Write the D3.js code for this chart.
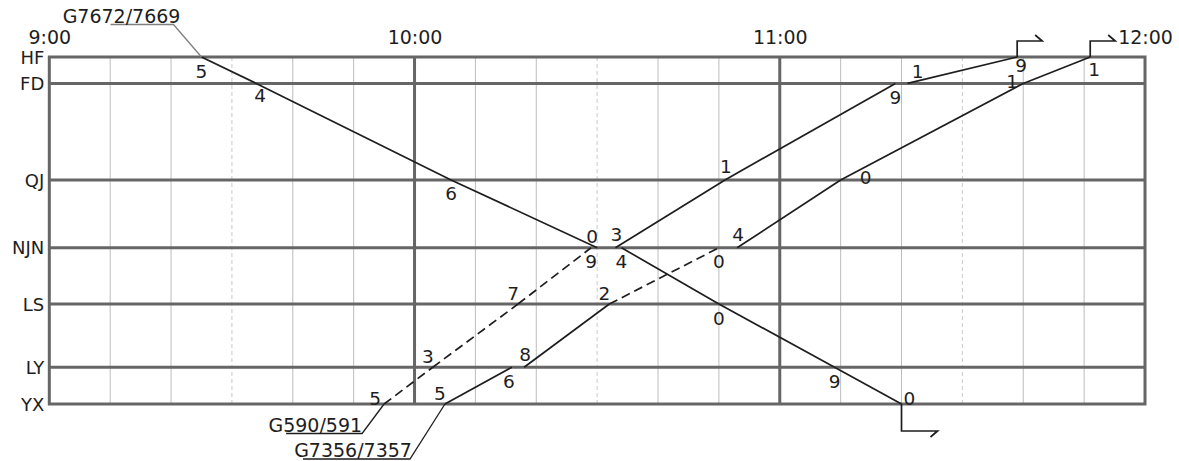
<!DOCTYPE html>
<html>
<head>
<meta charset="utf-8">
<script src="https://cdn.jsdelivr.net/npm/d3@7"></script>
<style>
    body { margin: 0; background: #fff; }
    svg { display: block; font-family: "DejaVu Sans", sans-serif; }
    .minor { stroke: #bdbdbd; stroke-width: 1; }
    .minor.half { stroke: #cacaca; stroke-dasharray: 4 3; }
    .major { stroke: #666; stroke-width: 3; fill: none; }
    .train { stroke: #1e1e1e; stroke-width: 1.7; fill: none; }
    .train.dashed { stroke-dasharray: 9 5; }
    .mark { font-size: 18.5px; fill: #1e1e1e; text-anchor: middle; }
    .axis text { font-size: 18px; fill: #1e1e1e; font-family: "DejaVu Sans", sans-serif; }
    .axis.top text { font-size: 19px; }
    .name { font-size: 19px; fill: #1e1e1e; text-anchor: end; }
</style>
</head>
<body>
<svg id="chart" width="1179" height="461"></svg>
<script>
//
// DATA
//
const stations = ['HF', 'FD', 'QJ', 'NJN', 'LS', 'LY', 'YX']
const stationKm = [0, 23, 107, 166, 215, 270, 302]
const hourTicks = ['9:00', '10:00', '11:00', '12:00']

// G7672/7669, running down from HF
const g7672Stops = ['HF', 'FD', 'QJ', 'NJN', 'NJN', 'LS', 'LY', 'YX']
const g7672Times = ['9:25', '9:34', '10:06', '10:30', '10:34', '10:50', '11:09', '11:20']
const g7672Marks = ['5', '4', '6', '0', '4', '0', '9', '0']
const g7672Dashed = [0, 0, 0, 0, 0, 0, 0]
const g7672Place = ['b', 'br', 'b', 'al', 'b', 'b', 'b', 'er']

// G590/591, running up from YX
const g590Stops = ['YX', 'LY', 'LS', 'NJN', 'NJN', 'QJ', 'FD', 'FD', 'HF']
const g590Times = ['9:55', '10:03', '10:17', '10:29', '10:33', '10:51', '11:19', '11:21', '11:39']
const g590Marks = ['5', '3', '7', '9', '3', '1', '9', '1', '9']
const g590Dashed = [1, 1, 1, 0, 0, 0, 0, 0]
const g590Place = ['el', 'al', 'al', 'b', 'a', 'a', 'b', 'ar', 'bt']

// G7356/7357, running up from YX
const g7356Stops = ['YX', 'LY', 'LY', 'LS', 'NJN', 'NJN', 'QJ', 'FD', 'HF']
const g7356Times = ['10:05', '10:16', '10:18', '10:32', '10:50', '10:53', '11:10', '11:40', '11:51']
const g7356Marks = ['5', '6', '8', '2', '0', '4', '0', '1', '1']
const g7356Dashed = [0, 0, 0, 1, 0, 0, 0, 0]
const g7356Place = ['al', 'bl', 'a', 'al', 'b', 'a', 'r', 'l', 'br']

const trainNames = ['G7672/7669', 'G590/591', 'G7356/7357']

//
// LAYOUT
//
const plotLeft = 49.3
const plotRight = 1145
const plotTop = 57
const plotBottom = 404

// label offsets (centre of the digit relative to the stop)
const placeOffsets = {
    a: [1, -13], b: [0, 14], al: [-5, -11], bl: [-3, 14],
    ar: [10, -12], br: [4, 12], bt: [4, 8], r: [25, -2],
    l: [-11, -2], er: [8, -6], el: [-9, -6]
}
// end of the name underline relative to the first stop, underline length, text nudge
const nameLayout = [
    { dx: -28, dy: -32.5, len: 63, tx: 7, color: '#808080' },
    { dx: -22, dy: 29.5, len: 76, tx: 0, color: '#1e1e1e' },
    { dx: -35, dy: 55, len: 107, tx: 2, color: '#1e1e1e' }
]

const parseTime = d3.timeParse('%H:%M')

const x = d3.scaleTime()
    .domain([parseTime(hourTicks[0]), parseTime(hourTicks[hourTicks.length - 1])])
    .range([plotLeft, plotRight])
const y = d3.scaleLinear()
    .domain([stationKm[0], stationKm[stationKm.length - 1]])
    .range([plotTop, plotBottom])

const svg = d3.select('#chart')

// 1) minor time grid every 10 minutes, dashed at the half hour
const minorTicks = x.ticks(d3.timeMinute.every(10)).filter(d => d.getMinutes() !== 0)
svg.append('g')
    .selectAll('line')
    .data(minorTicks)
    .join('line')
    .attr('class', d => d.getMinutes() === 30 ? 'minor half' : 'minor')
    .attr('x1', d => x(d))
    .attr('x2', d => x(d))
    .attr('y1', plotTop)
    .attr('y2', plotBottom)

// 2) station lines, hour lines and frame
const majors = svg.append('g')
majors.selectAll('line.st')
    .data(stationKm.slice(1, -1))
    .join('line')
    .attr('class', 'major st')
    .attr('x1', plotLeft)
    .attr('x2', plotRight)
    .attr('y1', d => y(d))
    .attr('y2', d => y(d))
majors.selectAll('line.hr')
    .data(hourTicks.slice(1, -1).map(parseTime))
    .join('line')
    .attr('class', 'major hr')
    .attr('x1', d => x(d))
    .attr('x2', d => x(d))
    .attr('y1', plotTop)
    .attr('y2', plotBottom)
majors.append('rect')
    .attr('class', 'major')
    .attr('x', plotLeft)
    .attr('y', plotTop)
    .attr('width', plotRight - plotLeft)
    .attr('height', plotBottom - plotTop)

// 3) axes: hours on top, stations on the left
const xAxis = svg.append('g')
    .attr('class', 'axis top')
    .attr('transform', `translate(0,${plotTop - 10})`)
    .call(d3.axisTop(x)
        .tickValues(hourTicks.map(parseTime))
        .tickFormat(d3.timeFormat('%-H:%M'))
        .tickSize(0)
        .tickPadding(3))
xAxis.select('.domain').remove()

const yAxis = svg.append('g')
    .attr('class', 'axis')
    .attr('transform', `translate(${plotLeft},0)`)
    .call(d3.axisLeft(y)
        .tickValues(stationKm)
        .tickFormat((d, i) => stations[i])
        .tickSize(0)
        .tickPadding(5))
yAxis.select('.domain').remove()
yAxis.selectAll('text').attr('dy', '0.34em')

// 4) trains
const trains = [
    { stops: g7672Stops, times: g7672Times, marks: g7672Marks, dashed: g7672Dashed, place: g7672Place },
    { stops: g590Stops, times: g590Times, marks: g590Marks, dashed: g590Dashed, place: g590Place },
    { stops: g7356Stops, times: g7356Times, marks: g7356Marks, dashed: g7356Dashed, place: g7356Place }
]

const plotTrain = (train, idx) => {
    const g = svg.append('g').attr('class', 'train-' + idx)
    const pts = train.stops.map((s, i) => ({
        x: x(parseTime(train.times[i])),
        y: y(stationKm[stations.indexOf(s)])
    }))

    // running lines between stations (dwell on the station line is not drawn)
    for (let i = 0; i < pts.length - 1; i++) {
        if (train.stops[i] === train.stops[i + 1]) continue
        g.append('line')
            .attr('class', train.dashed[i] ? 'train dashed' : 'train')
            .attr('x1', pts[i].x)
            .attr('y1', pts[i].y)
            .attr('x2', pts[i + 1].x)
            .attr('y2', pts[i + 1].y)
    }

    // minute digits
    g.selectAll('text.mark')
        .data(train.marks)
        .join('text')
        .attr('class', 'mark')
        .attr('x', (d, i) => pts[i].x + placeOffsets[train.place[i]][0])
        .attr('y', (d, i) => pts[i].y + placeOffsets[train.place[i]][1] + 6.5)
        .text(d => d)

    // leaving hook at the last stop
    const last = pts[pts.length - 1]
    const goingUp = last.y < pts[0].y
    const dv = goingUp ? -16 : 27
    const len = goingUp ? 25 : 36
    const tip = goingUp ? -6 : 6
    g.append('path')
        .attr('class', 'train')
        .attr('d', `M${last.x},${last.y}V${last.y + dv}H${last.x + len}l-7,${tip}`)

    // train name with underline and leader
    const lay = nameLayout[idx]
    const ex = pts[0].x + lay.dx
    const ey = pts[0].y + lay.dy
    g.append('path')
        .attr('d', `M${ex - lay.len},${ey}H${ex}L${pts[0].x},${pts[0].y}`)
        .attr('fill', 'none')
        .attr('stroke', lay.color)
        .attr('stroke-width', 1.3)
    g.append('text')
        .attr('class', 'name')
        .attr('x', ex + lay.tx)
        .attr('y', ey - 2)
        .text(trainNames[idx])
}

trains.forEach(plotTrain)
</script>
</body>
</html>
